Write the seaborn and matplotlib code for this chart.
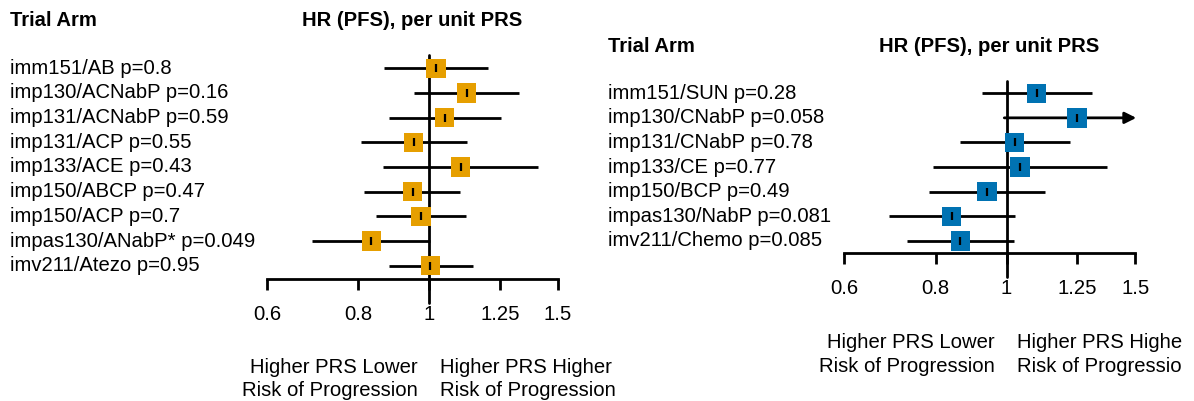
import numpy as np
import pandas as pd
import matplotlib
matplotlib.use("Agg")
import matplotlib.pyplot as plt
import matplotlib.transforms as mtransforms
from matplotlib.ticker import FixedLocator, FixedFormatter, NullLocator
import seaborn as sns

# ── Data ──────────────────────────────────────────────────────────

LEFT_ARMS = ["imm151/AB", "imp130/ACNabP", "imp131/ACNabP", "imp131/ACP",
             "imp133/ACE", "imp150/ABCP", "imp150/ACP", "impas130/ANabP*",
             "imv211/Atezo"]
LEFT_P = ["0.8", "0.16", "0.59", "0.55", "0.43", "0.47", "0.7", "0.049", "0.95"]
LEFT_HR = [1.021, 1.125, 1.050, 0.952, 1.104, 0.949, 0.974, 0.833, 1.004]
LEFT_LO = [0.866, 0.954, 0.880, 0.806, 0.864, 0.815, 0.847, 0.692, 0.882]
LEFT_HI = [1.205, 1.328, 1.254, 1.126, 1.409, 1.103, 1.122, 1.001, 1.146]

RIGHT_ARMS = ["imm151/SUN", "imp130/CNabP", "imp131/CNabP", "imp133/CE",
              "imp150/BCP", "impas130/NabP", "imv211/Chemo"]
RIGHT_P = ["0.28", "0.058", "0.78", "0.77", "0.49", "0.081", "0.085"]
RIGHT_HR = [1.100, 1.249, 1.026, 1.043, 0.940, 0.841, 0.865]
RIGHT_LO = [0.926, 0.993, 0.864, 0.793, 0.784, 0.690, 0.732]
RIGHT_HI = [1.308, 1.600, 1.220, 1.371, 1.128, 1.026, 1.024]

TICKS = [0.6, 0.8, 1, 1.25, 1.5]
TICK_LABELS = ["0.6", "0.8", "1", "1.25", "1.5"]
X_MIN, X_MAX = 0.6, 1.5

ORANGE = "#E69F00"
BLUE = "#0072B2"

W, H = 1194, 401
FS = 14.6

sns.set_style("white")
plt.rcParams["font.family"] = ["Liberation Sans", "DejaVu Sans"]
plt.rcParams["text.color"] = "black"


def fx(px):
    return px / W


def fy(py):
    return 1 - py / H


# ── Panel ─────────────────────────────────────────────────────────

def forest_panel(fig, rect_px, pad_top, pad_bot, arms, pvals, hr, lo, hi,
                 color, label_x, head_y, title_x):
    left, top, right, bottom = rect_px
    ax = fig.add_axes([fx(left), fy(bottom), fx(right - left),
                       (bottom - top) / H])
    n = len(arms)
    df = pd.DataFrame({"row": np.arange(n), "hr": hr, "lo": lo, "hi": hi})

    # reference line at HR = 1, running below the axis
    ext = 24 / (bottom - top)
    ax.axvline(1, ymin=-ext, ymax=1, color="black", lw=2, clip_on=False,
               zorder=1)

    # confidence intervals (arrow if beyond the axis)
    for r, l, h in zip(df["row"], df["lo"], df["hi"]):
        if h > X_MAX:
            ax.annotate("", xy=(X_MAX * 1.003, r), xytext=(l, r),
                        arrowprops=dict(arrowstyle="-|>", lw=2,
                                        color="black", mutation_scale=17,
                                        shrinkA=0, shrinkB=0),
                        zorder=2, annotation_clip=False)
        else:
            ax.hlines(r, l, h, color="black", lw=2, zorder=2)

    sns.scatterplot(data=df, x="hr", y="row", marker="s", s=195,
                    color=color, edgecolor="none", ax=ax, zorder=3,
                    legend=False)
    sns.scatterplot(data=df, x="hr", y="row", marker="|", s=40,
                    color="black", linewidth=1.6, ax=ax, zorder=4,
                    legend=False)

    ax.set_xscale("log")
    ax.set_xlim(X_MIN, X_MAX)
    ax.set_ylim(n - 1 + pad_bot, -pad_top)
    ax.xaxis.set_major_locator(FixedLocator(TICKS))
    ax.xaxis.set_major_formatter(FixedFormatter(TICK_LABELS))
    ax.xaxis.set_minor_locator(NullLocator())
    ax.set_yticks([])
    ax.set_xlabel("")
    ax.set_ylabel("")
    for s in ["top", "left", "right"]:
        ax.spines[s].set_visible(False)
    ax.spines["bottom"].set_linewidth(2)
    ax.spines["bottom"].set_color("black")
    ax.tick_params(axis="x", bottom=True, direction="out", length=8,
                   width=2, colors="black", labelcolor="black",
                   labelsize=FS, pad=11)
    ax.patch.set_alpha(0)

    # row labels
    trans = mtransforms.blended_transform_factory(fig.transFigure,
                                                  ax.transData)
    for r, (a, p) in enumerate(zip(arms, pvals)):
        ax.text(fx(label_x), r, f"{a} p={p}", transform=trans,
                ha="left", va="center", fontsize=FS, color="black",
                clip_on=False)

    fig.text(fx(label_x), fy(head_y), "Trial Arm", ha="left",
             va="baseline", fontsize=FS, fontweight="bold", color="black")
    fig.text(fx(title_x), fy(head_y), "HR (PFS), per unit PRS",
             ha="center", va="baseline", fontsize=FS, fontweight="bold",
             color="black")
    return ax


fig = plt.figure(figsize=(W / 100, H / 100), dpi=100)

forest_panel(fig, (267, 55, 558, 279), 0.54, 0.54, LEFT_ARMS, LEFT_P,
             LEFT_HR, LEFT_LO, LEFT_HI, ORANGE, 10, 26.5, 412)
forest_panel(fig, (844.3, 80.7, 1135.3, 252.7), 0.51, 0.48, RIGHT_ARMS,
             RIGHT_P, RIGHT_HR, RIGHT_LO, RIGHT_HI, BLUE, 608, 51.7, 989)

# direction annotations (right panel text is cut off at the image edge)
clip = mtransforms.Bbox([[0, 0], [1182, H]])
notes = [
    (418, 440, 372.7, 396),
    (995, 1017, 348.3, 371.7),
]
for xr, xl, b1, b2 in notes:
    fig.text(fx(xr), fy(b1), "Higher PRS Lower", ha="right",
             va="baseline", fontsize=FS, color="black")
    fig.text(fx(xr), fy(b2), "Risk of Progression", ha="right",
             va="baseline", fontsize=FS, color="black")
    for b, s in [(b1, "Higher PRS Higher"), (b2, "Risk of Progression")]:
        t = fig.text(fx(xl), fy(b), s, ha="left", va="baseline",
                     fontsize=FS, color="black")
        t.set_clip_box(clip)
        t.set_clip_on(True)

fig.savefig("out.png", dpi=100, facecolor="white")
